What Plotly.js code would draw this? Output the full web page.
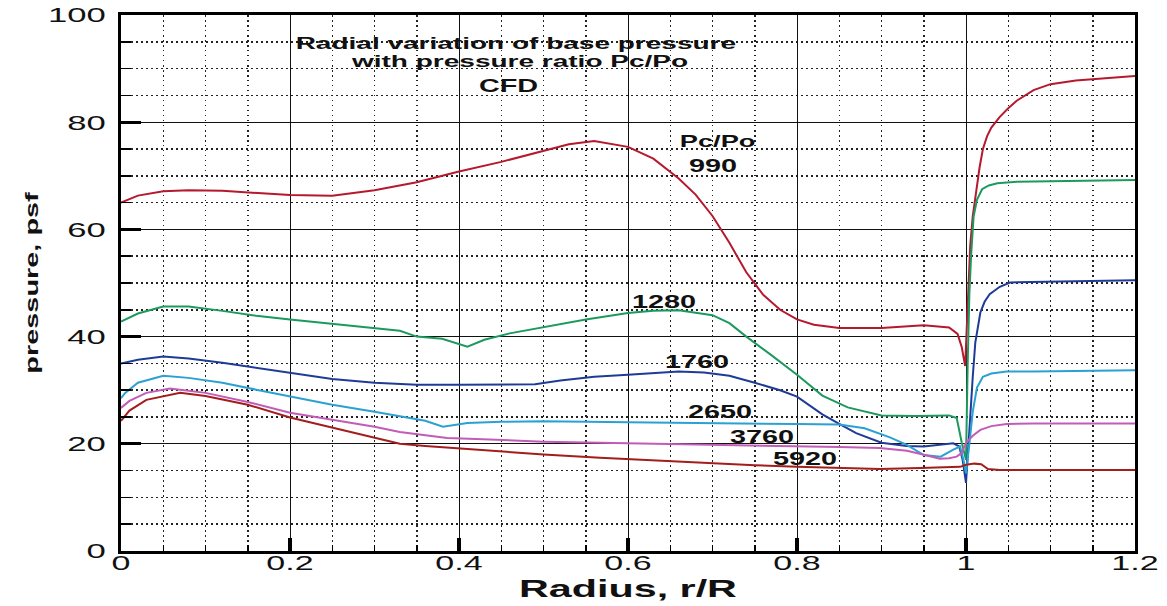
<!DOCTYPE html>
<html>
<head>
<meta charset="utf-8">
<script src="https://cdn.plot.ly/plotly-3.0.1.min.js"></script>
<style>
html,body{margin:0;padding:0;background:#fff;}
#chart{width:1167px;height:606px;}
</style>
</head>
<body>
<div id="chart"></div>
<script>
// ---- data ----
const r990 = [0, .02, .05, .08, .12, .16, .2, .25, .3, .35, .4, .45, .5, .53, .56, .6, .63, .66, .68, .7, .72, .74, .76, .78, .8, .82, .85, .9, .95, .98, .99, .995, .999, 1.002, 1.005, 1.008, 1.012, 1.016, 1.02, 1.025, 1.03, 1.04, 1.05, 1.06, 1.08, 1.1, 1.13, 1.16, 1.2];
const p990 = [65, 66.3, 67.1, 67.3, 67.2, 66.8, 66.4, 66.3, 67.3, 68.8, 70.8, 72.6, 74.6, 75.9, 76.5, 75.4, 73.2, 69.5, 66.5, 62.5, 57.5, 52, 47.8, 45, 43.2, 42.2, 41.6, 41.6, 42.1, 41.7, 40.5, 38, 34.5, 47, 57, 62.5, 67.5, 71.5, 75, 77.4, 79, 81, 82.6, 84, 86, 87.1, 87.8, 88.2, 88.6];

const r1280 = [0, .02, .05, .08, .12, .16, .2, .25, .3, .33, .35, .38, .41, .43, .46, .5, .55, .6, .63, .66, .7, .72, .74, .77, .8, .83, .86, .9, .94, .98, .989, .995, 1.0, 1.002, 1.004, 1.006, 1.009, 1.013, 1.019, 1.027, 1.037, 1.06, 1.1, 1.15, 1.2];
const p1280 = [42.8, 44.3, 45.6, 45.6, 44.8, 43.9, 43.2, 42.4, 41.5, 41.1, 40.0, 39.6, 38.1, 39.4, 40.6, 41.7, 43.2, 44.4, 44.8, 44.9, 44.0, 42.5, 40.0, 36.5, 32.9, 29.0, 26.8, 25.3, 25.2, 25.3, 24.8, 20.2, 17, 35, 48, 55, 62.4, 65.5, 67.5, 68.2, 68.6, 68.9, 69.0, 69.0, 69.2];

const r1760 = [0, .02, .05, .08, .12, .16, .2, .25, .3, .35, .4, .45, .49, .52, .56, .6, .63, .66, .69, .72, .75, .78, .8, .83, .85, .87, .9, .93, .95, .97, .985, .992, .996, 1.0, 1.003, 1.005, 1.008, 1.011, 1.017, 1.022, 1.028, 1.04, 1.052, 1.08, 1.12, 1.16, 1.2];
const p1760 = [35, 35.7, 36.3, 35.9, 35.1, 34.2, 33.3, 32.1, 31.4, 31.0, 31.0, 31.0, 31.1, 31.8, 32.5, 32.9, 33.2, 33.5, 33.3, 32.7, 31.4, 30.0, 28.8, 25.5, 23.7, 22.0, 20.2, 19.6, 19.5, 19.9, 20.1, 19.5, 17, 12.7, 19, 25, 32.5, 38.9, 44.5, 46.5, 47.9, 49.3, 50.1, 50.2, 50.3, 50.4, 50.5];

const r2650 = [0, .005, .02, .05, .08, .12, .16, .2, .25, .3, .33, .36, .381, .41, .45, .5, .6, .7, .8, .85, .88, .91, .93, .95, .97, .985, .993, .997, 1.0, 1.004, 1.008, 1.013, 1.02, 1.03, 1.048, 1.08, 1.12, 1.16, 1.2];
const p2650 = [28.5, 29.5, 31.4, 32.7, 32.3, 31.4, 30.1, 28.8, 27.3, 26.0, 25.2, 24.3, 23.2, 23.9, 24.1, 24.2, 24.0, 23.9, 23.7, 23.6, 22.9, 21.2, 19.8, 17.9, 17.6, 18.9, 19.5, 17, 14.5, 20, 26, 30.5, 32.5, 33.1, 33.5, 33.5, 33.6, 33.6, 33.7];

const r3760 = [0, .01, .03, .058, .1, .15, .2, .25, .3, .33, .36, .386, .42, .45, .5, .567, .65, .73, .8, .85, .898, .93, .949, .969, .98, .989, .995, 1.0, 1.008, 1.017, 1.03, 1.048, 1.08, 1.12, 1.2];
const p3760 = [26.7, 28, 29.5, 30.3, 29.5, 27.8, 25.8, 24.5, 23.2, 22.2, 21.6, 21.1, 20.9, 20.7, 20.4, 20.2, 20.0, 19.8, 19.6, 19.4, 19.2, 18.7, 18.0, 17.2, 17.3, 17.6, 18.3, 20.2, 21.5, 22.6, 23.3, 23.7, 23.8, 23.8, 23.8];

const r5920 = [0, .01, .03, .07, .1, .15, .2, .25, .3, .33, .36, .386, .449, .5, .567, .63, .685, .75, .8, .85, .898, .946, .993, 1.0, 1.01, 1.018, 1.026, 1.04, 1.08, 1.14, 1.2];
const p5920 = [24.3, 26.2, 28.2, 29.5, 28.9, 27.3, 24.9, 23.0, 21.0, 20.0, 19.6, 19.3, 18.5, 18.0, 17.4, 16.9, 16.4, 16.0, 15.7, 15.5, 15.3, 15.5, 15.7, 16.1, 16.3, 16.2, 15.3, 15.1, 15.1, 15.1, 15.1];

const seriesNames = ['990', '1280', '1760', '2650', '3760', '5920'];
const seriesX = [r990, r1280, r1760, r2650, r3760, r5920];
const seriesY = [p990, p1280, p1760, p2650, p3760, p5920];
const seriesColors = ['#b5192e', '#1c9a5e', '#1f3b98', '#2ba1d3', '#c25cb6', '#a31d1d'];

// label texts
const titleLines = ['Radial variation of base pressure', 'with pressure ratio Pc/Po', 'CFD'];
const legendHead = 'Pc/Po';
const xTitle = 'Radius, r/R';
const yTitle = 'pressure, psf';

// ---- traces ----
const traces = seriesNames.map((n, i) => ({
  type: 'scatter', mode: 'lines', name: 'Pc/Po ' + n,
  x: seriesX[i], y: seriesY[i],
  line: {color: seriesColors[i], width: 2}
}));

// ---- annotations ----
const bold = {family: 'Liberation Sans, Arial, sans-serif', color: '#111', weight: 'bold'};
function ann(text, x, y, size) {
  return {text: text, x: x, y: y, xref: 'x', yref: 'y', showarrow: false,
          xanchor: 'center', yanchor: 'middle', font: Object.assign({size: size}, bold)};
}
const annotations = [
  ann(titleLines[0], 0.468, 94.6, 16),
  ann(titleLines[1], 0.472, 91.3, 16),
  ann(titleLines[2], 0.459, 86.7, 18),
  ann(legendHead, 0.706, 76.4, 17),
  ann(seriesNames[0], 0.700, 71.8, 18),
  ann(seriesNames[1], 0.643, 46.5, 18),
  ann(seriesNames[2], 0.682, 35.3, 18),
  ann(seriesNames[3], 0.709, 26.0, 18),
  ann(seriesNames[4], 0.759, 21.3, 18),
  ann(seriesNames[5], 0.809, 17.2, 18)
];

const minorGrid = {showgrid: true, gridcolor: '#222', gridwidth: 1.5, griddash: '1.5px,3.5px',
                   ticks: 'inside', tickcolor: '#000', tickwidth: 1.5};

const layout = {
  width: 1167, height: 606,
  margin: {l: 121, r: 32, t: 15, b: 55, pad: 0},
  paper_bgcolor: '#fff', plot_bgcolor: '#fff',
  showlegend: false,
  font: {family: 'Liberation Sans, Arial, sans-serif', color: '#111'},
  xaxis: {
    range: [0, 1.2], tick0: 0, dtick: 0.2, zeroline: false,
    showgrid: true, gridcolor: '#111', gridwidth: 1,
    showline: true, linecolor: '#000', linewidth: 3, mirror: true,
    ticks: 'inside', ticklen: 13, tickwidth: 4, tickcolor: '#000',
    tickfont: {size: 20, color: '#111'}, ticklabelstandoff: -8,
    minor: Object.assign({dtick: 0.05, ticklen: 6}, minorGrid),
    title: {text: xTitle, font: {size: 24, weight: 'bold', color: '#111'}, standoff: 8}
  },
  yaxis: {
    range: [0, 100], tick0: 0, dtick: 20, zeroline: false,
    showgrid: true, gridcolor: '#111', gridwidth: 1,
    showline: true, linecolor: '#000', linewidth: 3, mirror: true,
    ticks: 'inside', ticklen: 20, tickwidth: 3, tickcolor: '#000',
    tickfont: {size: 21, color: '#111'}, ticklabelstandoff: 8,
    minor: Object.assign({dtick: 5, ticklen: 10}, minorGrid),
    title: {text: yTitle, font: {size: 19, weight: 'bold', color: '#111'}, standoff: 28}
  },
  annotations: annotations
};

function stretch(sel, k) {
  document.querySelectorAll(sel).forEach(t => {
    const w = t.getComputedTextLength();
    if (w > 0) {
      t.setAttribute('textLength', (w * k).toFixed(1));
      t.setAttribute('lengthAdjust', 'spacingAndGlyphs');
    }
  });
}

Plotly.newPlot('chart', traces, layout, {staticPlot: true, displayModeBar: false}).then(() => {
  stretch('#chart .xtick text', 1.7);
  stretch('#chart .ytick text', 1.65);
  stretch('#chart .g-xtitle text', 1.72);
  stretch('#chart .g-ytitle text', 1.52);
  const anns = document.querySelectorAll('#chart .annotation-text');
  anns.forEach((t, i) => {
    const k = i < 2 ? 1.75 : 1.6;
    const w = t.getComputedTextLength();
    t.setAttribute('textLength', (w * k).toFixed(1));
    t.setAttribute('lengthAdjust', 'spacingAndGlyphs');
  });
});
</script>
</body>
</html>
